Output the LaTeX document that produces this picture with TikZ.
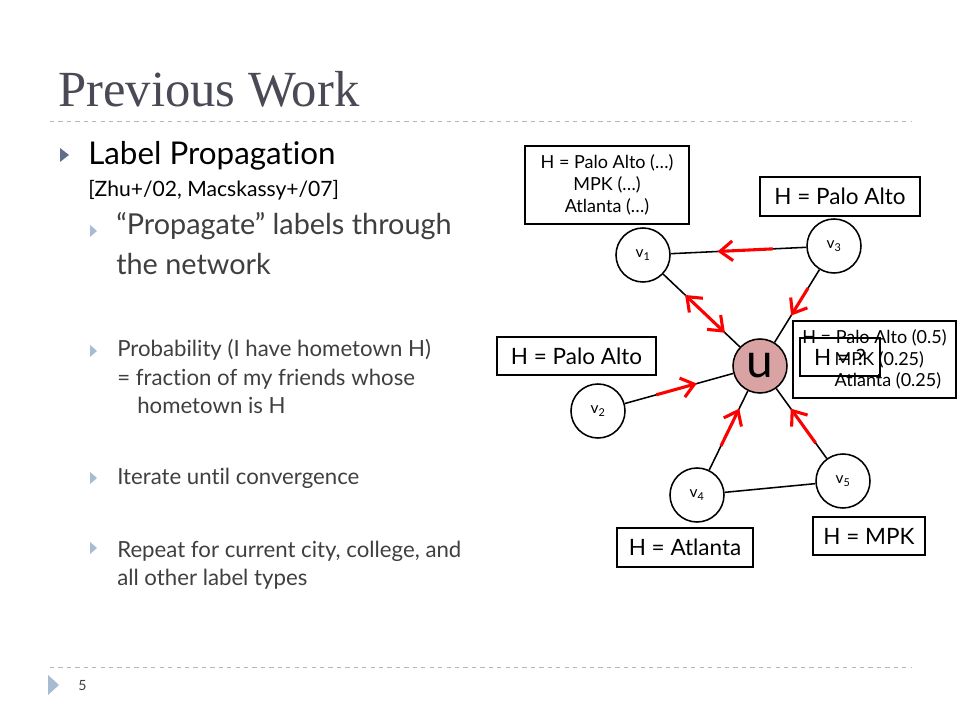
\documentclass[tikz,border=0pt]{standalone}
\usepackage{fontspec}
\setmainfont{Lato}[Ligatures=NoCommon]
\newfontfamily\titlefont{Liberation Serif}
\usetikzlibrary{arrows.meta,calc}

\definecolor{titlegray}{HTML}{4A4A56}
\definecolor{bodygray}{HTML}{3F3F3F}
\definecolor{bulletdark}{HTML}{5E6E8C}
\definecolor{bulletlight}{HTML}{A7BBD1}
\definecolor{rulecol}{HTML}{A9BBCB}
\definecolor{ucol}{HTML}{D9A3A3}

\newcommand{\titlesz}{\titlefont\fontsize{36}{40}\selectfont}
\newcommand{\headsz}{\fontsize{22.3}{26}\selectfont}
\newcommand{\bigsz}{\fontsize{20.5}{24}\selectfont}
\newcommand{\midsz}{\fontsize{15.8}{19}\selectfont}
\newcommand{\citesz}{\fontsize{15}{18}\selectfont}
\newcommand{\boxsz}{\fontsize{16}{19}\selectfont}
\newcommand{\smallsz}{\fontsize{12.8}{15.5}\selectfont}

\tikzstyle{vertex} = [circle, draw, line width=1.1pt, minimum size=1.35cm, inner sep=0pt, font=\fontsize{11}{13}\selectfont]
\tikzstyle{edge} = [draw, line width=1.1pt]
\tikzstyle{flow} = [draw, red, line width=2.2pt, -{Straight Barb[length=9pt,width=14pt]}]
\tikzstyle{flowboth} = [flow, {Straight Barb[length=9pt,width=14pt]}-{Straight Barb[length=9pt,width=14pt]}]
\tikzstyle{hbox} = [rectangle, draw, line width=0.8pt, inner sep=0pt]
\tikzstyle{txt} = [anchor=base west, inner sep=0pt]
\tikzstyle{rule} = [draw=rulecol, dashed, line width=0.6pt]

\begin{document}
\begin{tikzpicture}[x=0.025cm, y=-0.025cm]
		\useasboundingbox (0,0) rectangle (960,720);
		
		% title and rules
		\node [txt, font=\titlesz, text=titlegray] (title) at (58,107) {Previous Work};
		\path [rule] (50,121) -- (912,121);
		\path [rule] (50,667) -- (912,667);
		\fill [bulletlight] (48,675) -- (48,695) -- (59,685) -- cycle;
		\node [txt, font=\fontsize{10}{12}\selectfont, text=bodygray] (page) at (78,690) {5};
		
		% bullets
		\fill [bulletdark] (60,148) -- (60,162) -- (69,155) -- cycle;
		\foreach \y in {231,351,478,548}
			\fill [bulletlight] (90,\y-6) -- (90,\y+6) -- (97,\y) -- cycle;
		\node [txt, font=\headsz] (lp) at (88,165) {Label Propagation};
		\node [txt, font=\citesz] (cite) at (88,197) {[Zhu+/02, Macskassy+/07]};
		\node [txt, font=\bigsz, text=bodygray] (prop) at (116,235) {“Propagate” labels through};
		\node [txt, font=\bigsz, text=bodygray] (propb) at (116,275) {the network};
		\node [txt, font=\midsz, text=bodygray] (prob) at (117,357) {Probability (I have hometown H)};
		\node [txt, font=\midsz, text=bodygray] (probb) at (117,386) {= fraction of my friends whose};
		\node [txt, font=\midsz, text=bodygray] (probc) at (137,414) {hometown is H};
		\node [txt, font=\midsz, text=bodygray] (iter) at (117,485) {Iterate until convergence};
		\node [txt, font=\midsz, text=bodygray] (rep) at (117,557) {Repeat for current city, college, and};
		\node [txt, font=\midsz, text=bodygray] (repb) at (117,585) {all other label types};
		
		% network
		\node [vertex] (v1) at (643,255) {v\textsubscript{1}};
		\node [vertex] (v2) at (598,411) {v\textsubscript{2}};
		\node [vertex] (v3) at (834,246) {v\textsubscript{3}};
		\node [vertex] (v4) at (697,495) {v\textsubscript{4}};
		\node [vertex] (v5) at (843,481) {v\textsubscript{5}};
		\node [vertex, fill=ucol, font=\fontsize{34}{34}\selectfont] (u) at (760,366) {u};
		
		\path [edge] (v1) -- (v3);
		\path [edge] (v1) -- (u);
		\path [edge] (v3) -- (u);
		\path [edge] (v2) -- (u);
		\path [edge] (v4) -- (u);
		\path [edge] (v5) -- (u);
		\path [edge] (v4) -- (v5);
		
		\path [flow] ($(v3)!0.32!(v1)$) -- ($(v3)!0.61!(v1)$);
		\path [flowboth] ($(v1)!0.36!(u)$) -- ($(v1)!0.70!(u)$);
		\path [flow] ($(v3)!0.35!(u)$) -- ($(v3)!0.58!(u)$);
		\path [flow] ($(v2)!0.36!(u)$) -- ($(v2)!0.61!(u)$);
		\path [flow] ($(v4)!0.38!(u)$) -- ($(v4)!0.67!(u)$);
		\path [flow] ($(v5)!0.33!(u)$) -- ($(v5)!0.63!(u)$);
		
		% hometown labels
		\node [hbox, minimum width=4.1cm, minimum height=1.95cm, align=center, font=\smallsz] (hv1) at (607,185) {H = Palo Alto (…)\\MPK (…)\\Atlanta (…)};
		\node [hbox, minimum width=4cm, minimum height=0.975cm, font=\boxsz] (hv3) at (840,196.5) {H = Palo Alto};
		\node [hbox, minimum width=3.975cm, minimum height=0.95cm, font=\boxsz] (hv2) at (576.5,356) {H = Palo Alto};
		\node [hbox, minimum width=3.4cm, minimum height=0.975cm, font=\boxsz] (hv4) at (685,547.5) {H = Atlanta};
		\node [hbox, minimum width=2.8cm, minimum height=0.95cm, font=\boxsz] (hv5) at (869,536) {H = MPK};
		\node [hbox, minimum width=4.075cm, minimum height=1.925cm, align=left, font=\smallsz] (hu) at (874.5,359.5) {H = Palo Alto (0.5)\\\hspace{23pt}MPK (0.25)\\\hspace{23pt}Atlanta (0.25)};
		\node [hbox, minimum width=2cm, minimum height=0.95cm, font=\boxsz] (hq) at (840,357) {H = ?};
	\end{tikzpicture}
\end{document}
